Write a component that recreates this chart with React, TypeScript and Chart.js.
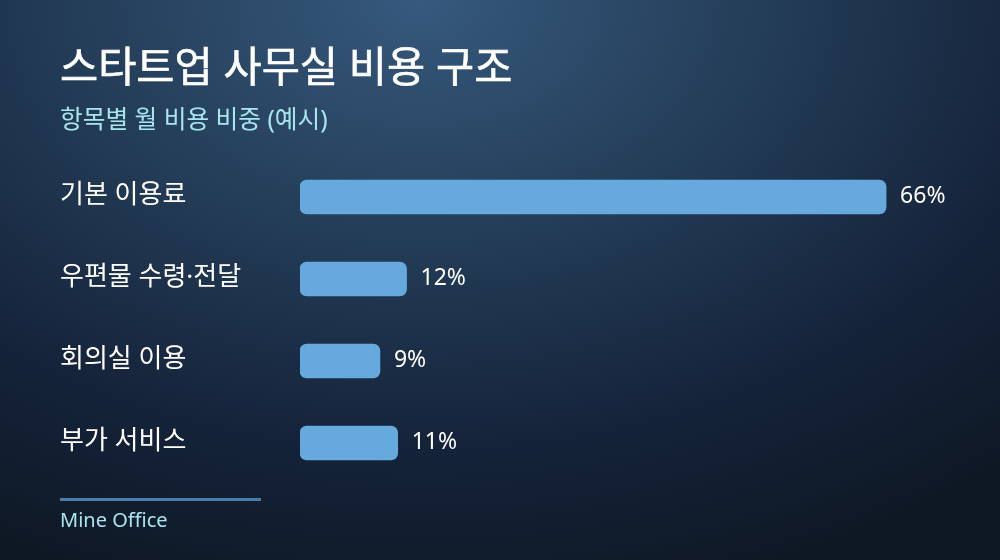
import React, { useEffect, useRef } from 'react';
import Chart from 'chart.js/auto';

const categories = ['기본 이용료', '우편물 수령·전달', '회의실 이용', '부가 서비스'];
const shares = [66, 12, 9, 11];

const FONT = '"Noto Sans", "Noto Sans CJK KR", sans-serif';

// category names on the left and percent labels after each bar
const labelPlugin = {
    id: 'barLabels',
    afterDatasetsDraw(chart: any) {
        const { ctx } = chart;
        const meta = chart.getDatasetMeta(0);
        const yScale = chart.scales.y;
        ctx.save();
        ctx.textBaseline = 'middle';
        categories.forEach((name, i) => {
            const y = yScale.getPixelForValue(i);
            ctx.fillStyle = '#ffffff';
            ctx.font = `26px ${FONT}`;
            ctx.textAlign = 'left';
            ctx.fillText(name, 60, y - 1);
            const bar = meta.data[i];
            ctx.font = `23px ${FONT}`;
            ctx.fillText(shares[i] + '%', bar.x + 14, y - 1);
        });
        ctx.restore();
    },
};

const BarChart = () => {
    const chartRef = useRef<HTMLCanvasElement>(null);

    useEffect(() => {
        if (!chartRef?.current) return;
        const ctx = chartRef.current.getContext('2d');
        if (!ctx) return;
        const myChart = new Chart(ctx, {
            type: 'bar',
            data: {
                labels: categories,
                datasets: [{
                    data: shares,
                    backgroundColor: '#66aadd',
                    borderRadius: 7,
                    borderSkipped: false,
                    barThickness: 34,
                }]
            },
            options: {
                indexAxis: 'y',
                animation: false,
                responsive: false,
                layout: { padding: { left: 300, right: 34, top: 156, bottom: 76 } },
                plugins: {
                    legend: { display: false },
                    tooltip: { enabled: false },
                },
                scales: {
                    x: { display: false, min: 0, max: 75 },
                    y: { display: false },
                }
            },
            plugins: [labelPlugin],
        });

        return () => {
            myChart.destroy();
        };
    }, []);

    return <canvas ref={chartRef} width={1000} height={560} style={{ position: 'absolute', left: 0, top: 0 }} />;
};

export default function App() {
    return (
        <div style={{
            position: 'fixed', left: 0, top: 0, width: 1000, height: 560, overflow: 'hidden',
            background: 'radial-gradient(ellipse 900px 620px at 42% 0%, #36597d 0%, #243d58 38%, #15233a 72%, #0e1824 100%)',
            fontFamily: FONT,
        }}>
            <div style={{ position: 'absolute', left: 60, top: 42, fontSize: 41.5, fontWeight: 400, color: '#ffffff', lineHeight: 1.2, whiteSpace: 'nowrap', WebkitTextStroke: '0.6px #ffffff' }}>
                스타트업 사무실 비용 구조
            </div>
            <div style={{ position: 'absolute', left: 60, top: 104, fontSize: 24.7, color: '#a8e6ef', lineHeight: 1.2, whiteSpace: 'nowrap' }}>
                항목별 월 비용 비중 (예시)
            </div>
            <BarChart />
            <div style={{ position: 'absolute', left: 60, top: 498, width: 201, height: 3, background: '#4a7ea8' }} />
            <div style={{ position: 'absolute', left: 60, top: 508, fontSize: 20, color: '#a8e6ef', lineHeight: 1.2, whiteSpace: 'nowrap' }}>
                Mine Office
            </div>
        </div>
    );
}
